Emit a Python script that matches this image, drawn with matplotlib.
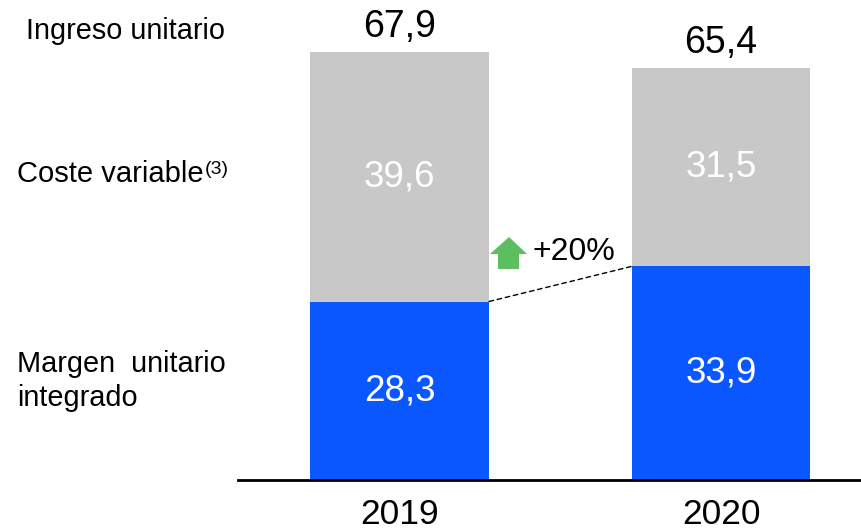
import matplotlib.pyplot as plt
from matplotlib.patches import Polygon

plt.rcParams['font.family'] = ['Liberation Sans', 'DejaVu Sans']

years = ['2019', '2020']
margen = [28.3, 33.9]
coste = [39.6, 31.5]
ingreso = [67.9, 65.4]
growth_label = '+20%'

BLUE = '#0B57FF'
GREY = '#C8C8C8'
GREEN = '#5CBF5F'

W, H = 861, 530
fig = plt.figure(figsize=(W / 100, H / 100), dpi=100)
ax = fig.add_axes([238 / W, 50 / H, 623 / W, 480 / H])

x = [0, 1]
bw = 0.554
ax.bar(x, margen, bw, color=BLUE, edgecolor='none')
ax.bar(x, coste, bw, bottom=margen, color=GREY, edgecolor='none')

def fmt(v):
    return f'{v:.1f}'.replace('.', ',')

for i in x:
    ax.text(i, margen[i] / 2, fmt(margen[i]),
            ha='center', va='center', color='white', fontsize=26.5)
    ax.text(i, margen[i] + coste[i] / 2, fmt(coste[i]),
            ha='center', va='center', color='white', fontsize=26.5)
    ax.annotate(fmt(ingreso[i]), (i, ingreso[i]),
                xytext=(0, 5), textcoords='offset points',
                ha='center', va='bottom', fontsize=27)

# dashed connector between blue tops
ax.plot([x[0] + bw / 2, x[1] - bw / 2], [margen[0], margen[1]],
        color='black', lw=1, ls=(0, (4, 2)))

ax.set_xlim(-0.502, 1.435)
ax.set_ylim(0, 76.15)
ax.set_xticks(x)
ax.set_xticklabels(years, fontsize=25.5)
ax.tick_params(axis='x', length=0, pad=13)
ax.set_yticks([])
for s in ['top', 'right', 'left']:
    ax.spines[s].set_visible(False)
ax.spines['bottom'].set_linewidth(2)

# green up arrow (pixel coordinates, y from top)
pts = [(509, 237), (527, 254), (519, 254), (519, 269), (498, 269), (498, 254), (490, 254)]
arrow = Polygon([(px / W, 1 - py / H) for px, py in pts], closed=True,
                transform=fig.transFigure, color=GREEN, lw=0)
fig.patches.append(arrow)
fig.text(532 / W, 1 - 252 / H, growth_label, fontsize=23, va='center', ha='left')

# row labels
fig.text(225 / W, 1 - 31 / H, 'Ingreso unitario', fontsize=20.8, ha='right', va='center')
fig.text(204 / W, 1 - 174 / H, 'Coste variable', fontsize=21, ha='right', va='center')
fig.text(205 / W, 1 - 170 / H, '(3)', fontsize=14, ha='left', va='center')
fig.text(17 / W, 1 - 364 / H, 'Margen  unitario', fontsize=20.8, ha='left', va='center')
fig.text(17 / W, 1 - 398 / H, 'integrado', fontsize=20.8, ha='left', va='center')

fig.savefig('out.png', dpi=100)
